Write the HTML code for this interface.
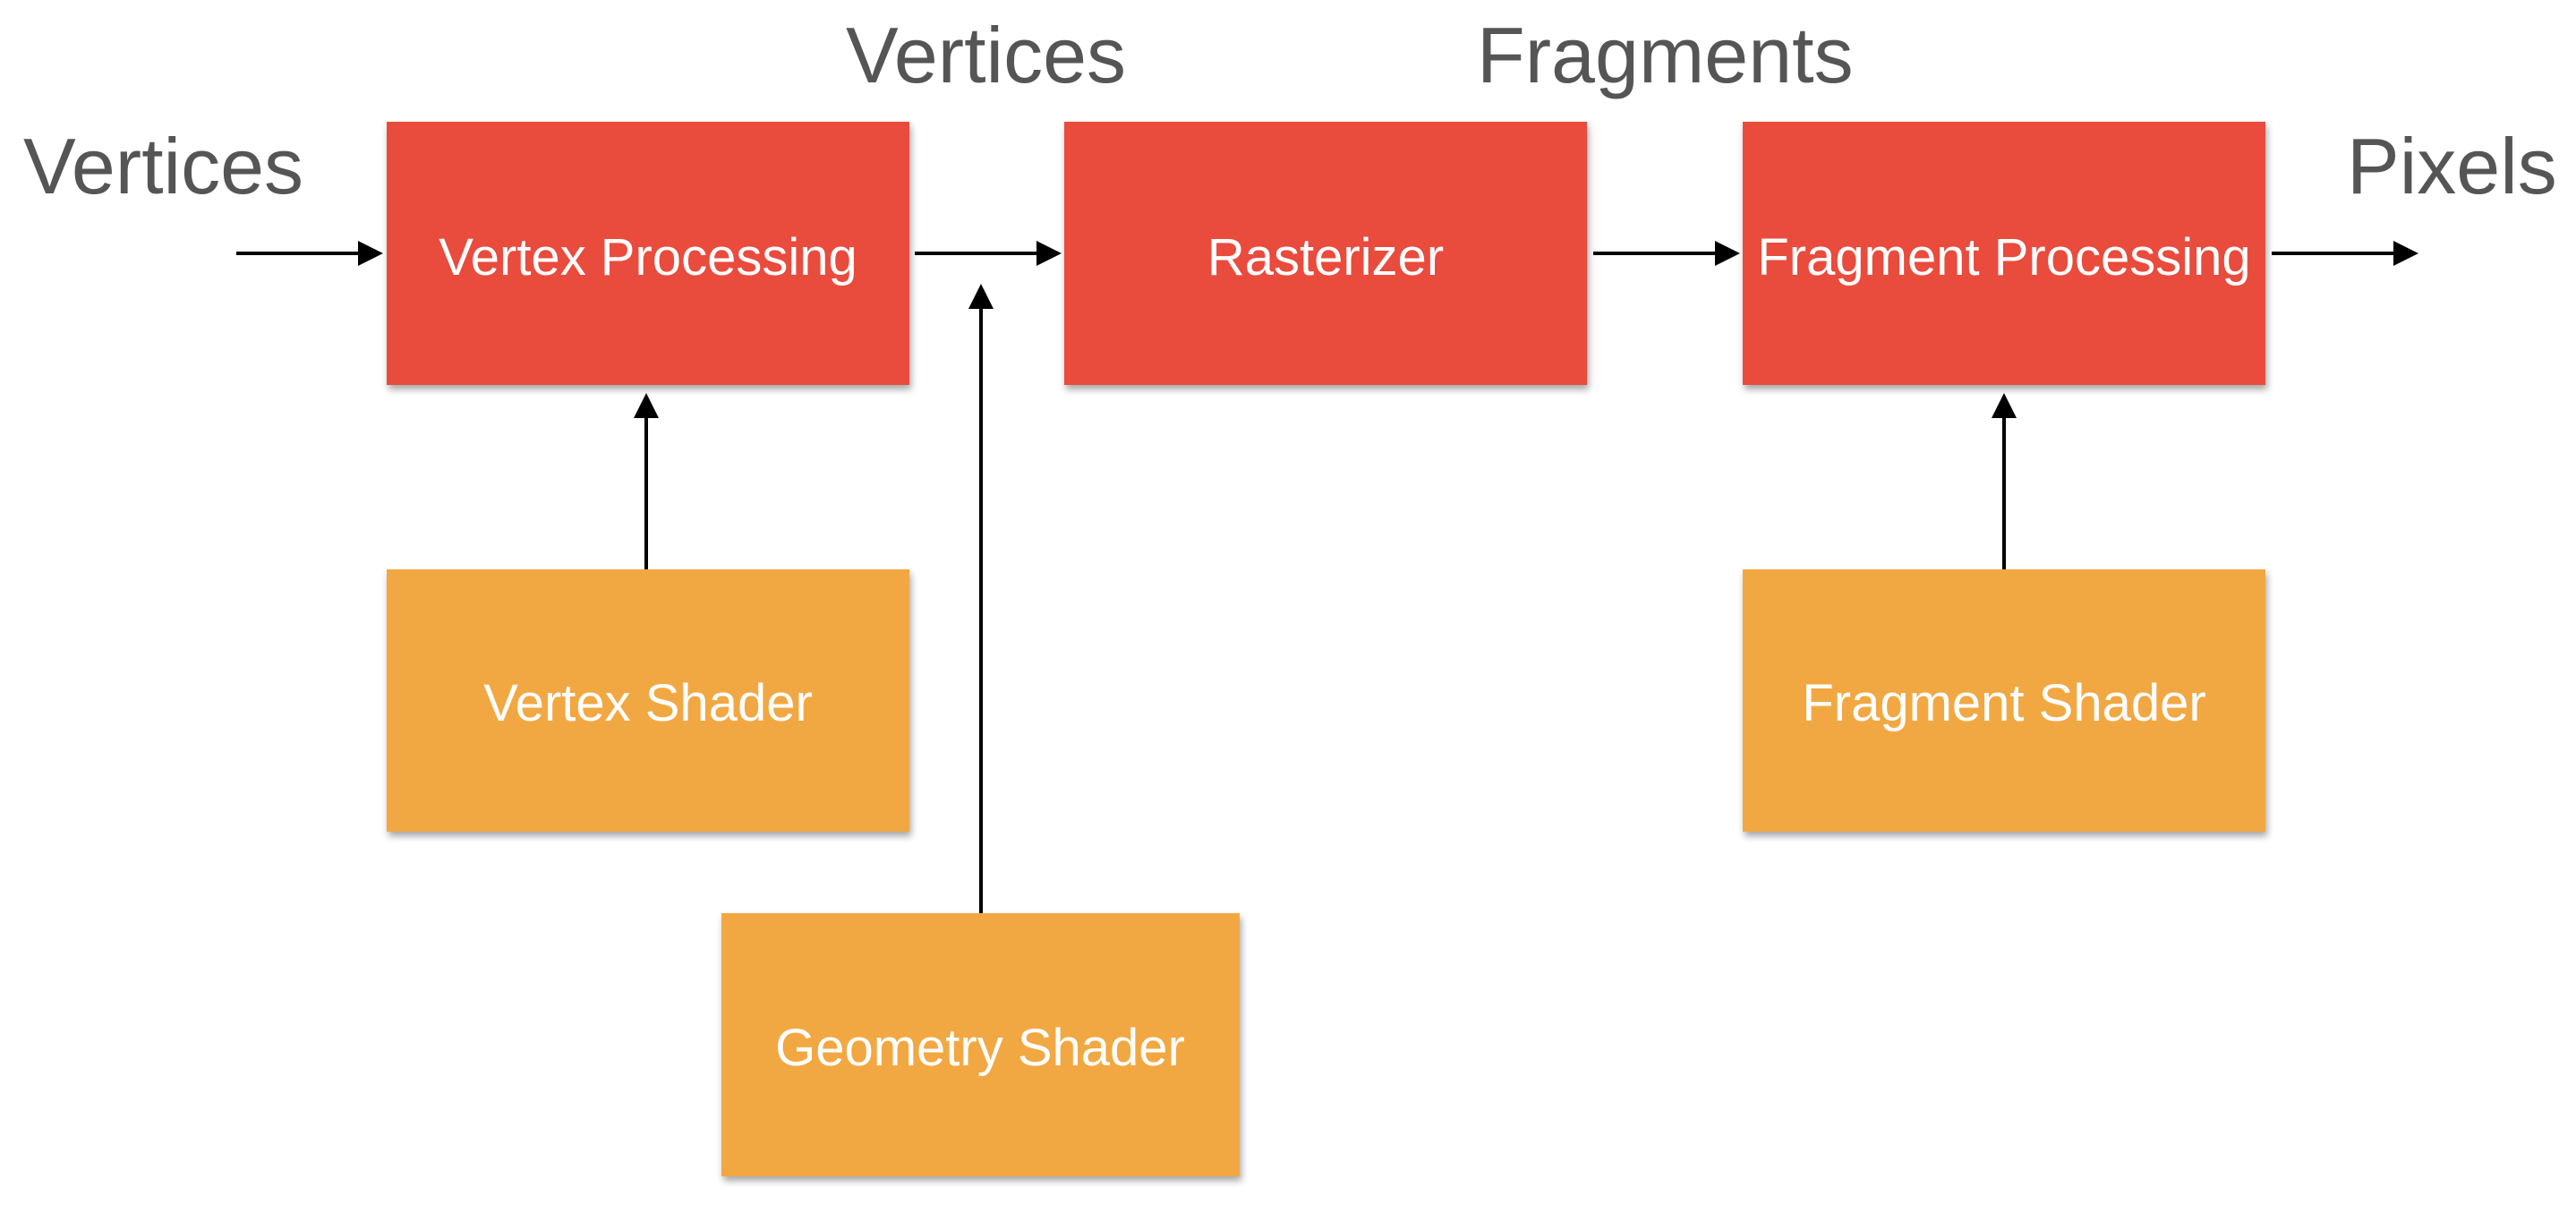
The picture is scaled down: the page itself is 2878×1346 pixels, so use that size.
<!DOCTYPE html>
<html><head><meta charset="utf-8"><style>
body{margin:0;background:#fff;}
svg{display:block;}
.b{font-family:"Liberation Sans",sans-serif;font-size:58px;fill:#fff;text-anchor:middle;}
.l{font-family:"Liberation Sans",sans-serif;font-size:88px;fill:#555;}
</style></head><body>
<svg width="2878" height="1346" viewBox="0 0 2878 1346" xmlns="http://www.w3.org/2000/svg">
<defs>
<filter id="s" x="-5%" y="-5%" width="110%" height="115%"><feDropShadow dx="2" dy="5" stdDeviation="4" flood-color="#000" flood-opacity="0.35"/></filter>
<marker id="a" markerWidth="7" markerHeight="7" refX="6" refY="3.5" orient="auto" markerUnits="strokeWidth"><path d="M0,0 L7,3.5 L0,7 z" fill="#000"/></marker>
</defs>
<g filter="url(#s)">
<rect x="432" y="136" width="584" height="294" fill="#E94B3C"/>
<rect x="1189" y="136" width="584" height="294" fill="#E94B3C"/>
<rect x="1947" y="136" width="584" height="294" fill="#E94B3C"/>
<rect x="432" y="636" width="584" height="293" fill="#F2A843"/>
<rect x="1947" y="636" width="584" height="293" fill="#F2A843"/>
<rect x="806" y="1020" width="579" height="294" fill="#F2A843"/>
</g>
<text class="b" x="724" y="307">Vertex Processing</text>
<text class="b" x="1481" y="307">Rasterizer</text>
<text class="b" x="2239" y="307">Fragment Processing</text>
<text class="b" x="724" y="805">Vertex Shader</text>
<text class="b" x="2239" y="805">Fragment Shader</text>
<text class="b" x="1095" y="1190">Geometry Shader</text>
<g stroke="#000" stroke-width="4" marker-end="url(#a)">
<line x1="264" y1="283" x2="424" y2="283"/>
<line x1="1022" y1="283" x2="1182" y2="283"/>
<line x1="1780" y1="283" x2="1940" y2="283"/>
<line x1="2538" y1="283" x2="2698" y2="283"/>
<line x1="722" y1="636" x2="722" y2="443"/>
<line x1="1096" y1="1020" x2="1096" y2="321"/>
<line x1="2239" y1="636" x2="2239" y2="443"/>
</g>
<text class="l" x="26" y="216">Vertices</text>
<text class="l" x="945" y="92">Vertices</text>
<text class="l" x="1650" y="92">Fragments</text>
<text class="l" x="2622" y="216">Pixels</text>
</svg>
</body></html>
